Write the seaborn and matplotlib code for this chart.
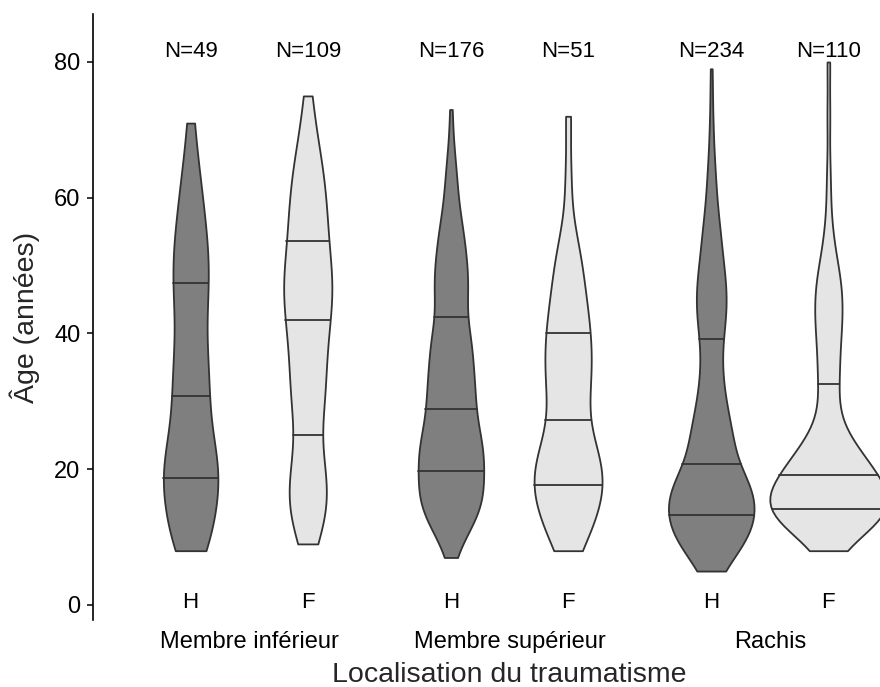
import numpy as np
import pandas as pd
import matplotlib
matplotlib.use('Agg')
import matplotlib.pyplot as plt
import seaborn as sns

locations = ['Membre inférieur', 'Membre supérieur', 'Rachis']
sexes = ['H', 'F']
palette = {'H': '#7f7f7f', 'F': '#e5e5e5'}

# ages (années) and how many patients at each age, per group
mi_h_ages = [8, 11, 14, 17, 18.7, 20, 23, 26, 28.5, 30.8, 33, 37, 41, 45, 47.4, 50, 54, 58, 62, 66, 71]
mi_h_counts = [3, 3, 3, 3, 1, 4, 3, 2, 2, 1, 3, 3, 2, 3, 1, 3, 3, 2, 2, 1, 1]

mi_f_ages = [9, 12, 15, 18, 21, 23.5, 25, 28, 31, 34, 37, 40, 42, 43.5, 46, 48.5, 51, 53, 53.6, 56, 59, 62, 65, 68, 71, 75]
mi_f_counts = [3, 5, 6, 6, 4, 3, 1, 5, 5, 5, 5, 6, 1, 6, 6, 6, 5, 3, 1, 6, 5, 5, 4, 3, 2, 2]

ms_h_ages = [7, 9, 11, 13, 15, 17.5, 19.7, 20.5, 22.5, 24.5, 26.5, 28, 28.9, 30.5, 33, 35.5, 38, 40.5, 42.5,
             45, 48, 51, 54, 57, 61, 65, 69, 73]
ms_h_counts = [1, 3, 5, 9, 11, 14, 2, 10, 11, 9, 7, 5, 2, 9, 9, 8, 8, 8, 2, 8, 8, 7, 6, 5, 4, 3, 1, 1]

ms_f_ages = [8, 11, 13.5, 16, 17.7, 19.5, 22, 25, 27.2, 30, 33, 36, 38.5, 40, 43, 46, 49, 52, 56, 63, 72]
ms_f_counts = [2, 3, 3, 4, 2, 4, 4, 3, 1, 3, 3, 3, 2, 2, 3, 2, 2, 2, 1, 1, 1]

ra_h_ages = [5, 6.5, 8, 9.5, 11, 12.3, 13.3, 14.5, 16, 17.5, 19, 20.8, 22.5, 25, 27.5, 30, 32.5, 35, 37.5, 39.2,
             41, 43.5, 46, 48.5, 51, 54, 57, 61, 65, 70, 75, 79]
ra_h_counts = [4, 6, 8, 11, 13, 16, 2, 14, 15, 14, 13, 2, 13, 11, 9, 7, 6, 5, 5, 2,
               7, 8, 8, 7, 6, 6, 5, 4, 3, 2, 1, 1]

ra_f_ages = [8, 10, 11.5, 12.8, 13.8, 14.2, 15, 16.5, 18, 19.2, 20.3, 22, 24.5, 27.5, 31, 32.5,
             35, 38, 41, 44, 47, 50, 54, 59, 64, 72, 80]
ra_f_counts = [2, 4, 5, 7, 9, 2, 8, 9, 8, 2, 8, 7, 5, 3, 2, 2, 3, 3, 4, 4, 4, 3, 2, 1, 1, 1, 1]

groups = [
    ('Membre inférieur', 'H', mi_h_ages, mi_h_counts),
    ('Membre inférieur', 'F', mi_f_ages, mi_f_counts),
    ('Membre supérieur', 'H', ms_h_ages, ms_h_counts),
    ('Membre supérieur', 'F', ms_f_ages, ms_f_counts),
    ('Rachis', 'H', ra_h_ages, ra_h_counts),
    ('Rachis', 'F', ra_f_ages, ra_f_counts),
]

frames = []
for loc, sexe, ages, counts in groups:
    vals = np.repeat(ages, counts)
    frames.append(pd.DataFrame({'loc': loc, 'sexe': sexe, 'age': vals}))
df = pd.concat(frames, ignore_index=True)

sns.set_style('ticks')
plt.rcParams['font.family'] = ['Liberation Sans', 'DejaVu Sans']

fig = plt.figure(figsize=(8.8, 6.87), dpi=100)
ax = fig.add_axes([93 / 880, 67 / 687, 833 / 880, 606 / 687])

sns.violinplot(data=df, x='loc', y='age', hue='sexe', order=locations, hue_order=sexes,
               palette=palette, width=0.9, dodge=True, gap=0, cut=0, inner='quart',
               density_norm='area', common_norm=True, bw_adjust=0.6,
               linecolor='#333333', linewidth=1.3, saturation=1, legend=False, ax=ax)
for line in ax.lines:
    line.set_linestyle('-')
    line.set_linewidth(1.3)

ax.set_xlim(-0.6, 2.6)
ax.set_ylim(-2.21, 87.07)
ax.set_yticks([0, 20, 40, 60, 80])

# N above, sex letter below each violin
for i, loc in enumerate(locations):
    for j, sexe in enumerate(sexes):
        n = len(df[(df['loc'] == loc) & (df['sexe'] == sexe)])
        x = i + (j - 0.5) * 0.45
        ax.text(x, 81.5, f'N={n}', ha='center', va='center', fontsize=16, color='black')
        ax.text(x, 0.3, sexe, ha='center', va='center', fontsize=16, color='black')

sns.despine(ax=ax, bottom=True)
ax.spines['left'].set_color('black')
ax.spines['left'].set_linewidth(1.2)
ax.tick_params(axis='y', length=4, width=1.1, color='black', labelsize=17, labelcolor='black', pad=5)
ax.tick_params(axis='x', length=0, labelsize=17, labelcolor='black', pad=8)
ax.set_xlabel('Localisation du traumatisme', fontsize=20.5, labelpad=6.5)
ax.set_ylabel('Âge (années)', fontsize=20.5, labelpad=10)

fig.savefig('out.png', dpi=100)
